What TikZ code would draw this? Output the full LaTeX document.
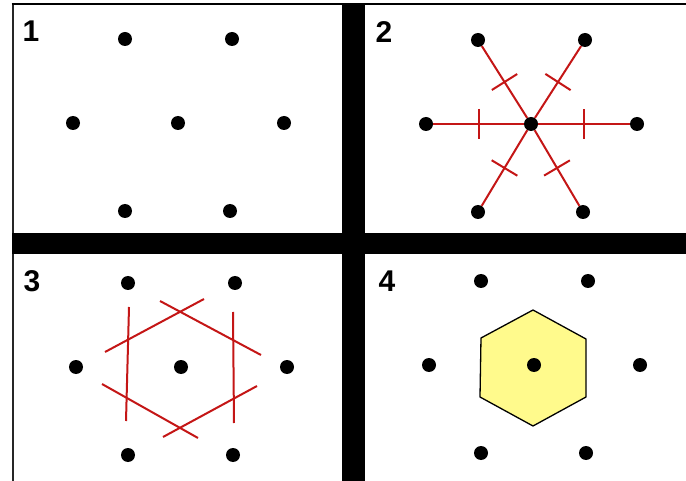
\documentclass[tikz,border=0pt]{standalone}
\usepackage{fontspec}
\setsansfont{Liberation Sans}
\usetikzlibrary{decorations.markings}
\definecolor{redline}{RGB}{196,22,22}
\definecolor{cellfill}{RGB}{255,250,140}

\begin{document}
\begin{tikzpicture}[
  x=1pt, y=-1pt,
  dot/.style={circle, fill=black, inner sep=0pt, minimum size=14pt},
  panelnum/.style={inner sep=0pt, font=\sffamily\bfseries\fontsize{30}{30}\selectfont},
  spoke/.style={draw=redline, line width=2pt, postaction={decorate},
    decoration={markings, mark=at position 0.5 with
      {\draw[redline, line width=2pt] (0pt,-15pt) -- (0pt,15pt);}}},
  bisector/.style={draw=redline, line width=2pt},
  cell/.style={fill=cellfill, draw=black, line width=1.3pt, line join=miter}
]
  \useasboundingbox (0,0) rectangle (686,481);

  % frame and the black cross between the four panels
  \draw[black!85, line width=2pt] (12.5,3) -- (12.5,481);
  \draw[line width=2.5pt] (11.5,4.2) -- (686,4.2);
  \fill (342,3) rectangle (365,481);
  \fill (12,233) rectangle (686,254);

  % panel 4: the cell
  \path[cell] (533,310) -- (586,339) -- (586,397) -- (533,426)
    -- (480,397) -- (481,338) -- cycle;

  % the points, same layout in every panel
  \foreach \p/\cx/\cy in {1/178/123, 2/531/124, 3/181/367, 4/534/365} {
    \node[dot] (p\p-c) at (\cx,\cy) {};
    \node[dot] (p\p-tl) at ([shift={(-53,-84)}]p\p-c) {};
    \node[dot] (p\p-tr) at ([shift={(54,-84)}]p\p-c) {};
    \node[dot] (p\p-l) at ([shift={(-105,0)}]p\p-c) {};
    \node[dot] (p\p-r) at ([shift={(106,0)}]p\p-c) {};
    \node[dot] (p\p-bl) at ([shift={(-53,88)}]p\p-c) {};
    \node[dot] (p\p-br) at ([shift={(52,88)}]p\p-c) {};
  }

  % panel 2: lines to the neighbours, cut in half
  \foreach \d in {tl,tr,l,r,bl,br}
    \draw[spoke] (p2-c) -- (p2-\d);

  % panel 3: the bisectors
  \draw[bisector] (129,307) -- (126,421);
  \draw[bisector] (233,312) -- (234,423);
  \draw[bisector] (105,352) -- (204,299);
  \draw[bisector] (160,301) -- (261,355);
  \draw[bisector] (102,384) -- (198,438);
  \draw[bisector] (163,437) -- (257,386);

  \node[panelnum] (n1) at (31,31) {1};
  \node[panelnum] (n2) at (384,32) {2};
  \node[panelnum] (n3) at (32,281) {3};
  \node[panelnum] (n4) at (387,281) {4};
\end{tikzpicture}
\end{document}
